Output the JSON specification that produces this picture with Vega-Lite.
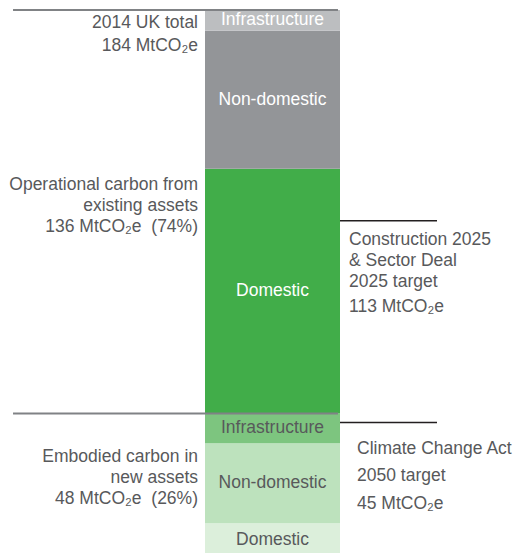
{
  "$schema": "https://vega.github.io/schema/vega-lite/v6.json",
  "width": 135,
  "height": 543,
  "autosize": {"type": "none"},
  "padding": {"left": 205, "right": 174, "top": 10, "bottom": 0},
  "background": "white",
  "config": {"view": {"stroke": null}, "font": "Liberation Sans", "text": {"font": "Liberation Sans", "fontSize": 17.5, "color": "#58595b"}},
  "datasets": {
    "segments": [
      {"group": "Embodied", "sector": "Domestic", "segment": "Embodied Domestic", "value": 11, "order": 1},
      {"group": "Embodied", "sector": "Non-domestic", "segment": "Embodied Non-domestic", "value": 27, "order": 2},
      {"group": "Embodied", "sector": "Infrastructure", "segment": "Embodied Infrastructure", "value": 10, "order": 3},
      {"group": "Operational", "sector": "Domestic", "segment": "Operational Domestic", "value": 82.5, "order": 4},
      {"group": "Operational", "sector": "Non-domestic", "segment": "Operational Non-domestic", "value": 46.5, "order": 5},
      {"group": "Operational", "sector": "Infrastructure", "segment": "Operational Infrastructure", "value": 7, "order": 6}
    ],
    "totals": [
      {"label": "2014 UK total", "total": 184},
      {"label": "Embodied", "total": 48}
    ],
    "targets": [
      {"label": "Construction 2025 & Sector Deal 2025 target", "target": 113},
      {"label": "Climate Change Act 2050 target", "target": 45}
    ],
    "note": [{}]
  },
  "layer": [
    {
      "data": {"name": "segments"},
      "transform": [
        {"stack": "value", "groupby": [], "sort": [{"field": "order", "order": "ascending"}], "as": ["v0", "v1"]}
      ],
      "mark": {"type": "bar", "clip": true},
      "encoding": {
        "x": {"datum": 0, "type": "quantitative", "scale": {"domain": [0, 1], "nice": false, "zero": false}, "axis": null},
        "x2": {"datum": 1},
        "y": {"field": "v0", "type": "quantitative", "scale": {"domain": [1, 184], "nice": false, "zero": false}, "axis": null},
        "y2": {"field": "v1"},
        "color": {
          "field": "segment", "type": "nominal", "legend": null,
          "scale": {
            "domain": ["Embodied Domestic", "Embodied Non-domestic", "Embodied Infrastructure", "Operational Domestic", "Operational Non-domestic", "Operational Infrastructure"],
            "range": ["#dcefdb", "#bde2bd", "#7dc57f", "#41ad49", "#939598", "#bcbec0"]
          }
        }
      }
    },
    {
      "data": {"name": "segments"},
      "transform": [
        {"stack": "value", "groupby": [], "sort": [{"field": "order", "order": "ascending"}], "as": ["v0", "v1"]},
        {"calculate": "(datum.v0 + datum.v1) / 2", "as": "mid"}
      ],
      "mark": {"type": "text", "align": "center", "baseline": "middle", "fontSize": 17.5},
      "encoding": {
        "x": {"datum": 0.5, "type": "quantitative"},
        "y": {"field": "mid", "type": "quantitative"},
        "text": {"field": "sector"},
        "color": {"field": "group", "type": "nominal", "legend": null, "scale": {"domain": ["Operational", "Embodied"], "range": ["#ffffff", "#58595b"]}}
      }
    },
    {
      "data": {"name": "totals"},
      "mark": {"type": "rule", "color": "#808285", "strokeWidth": 2},
      "encoding": {
        "x": {"datum": -1.422, "type": "quantitative"},
        "x2": {"datum": 0.985},
        "y": {"field": "total", "type": "quantitative"}
      }
    },
    {
      "data": {"name": "targets"},
      "mark": {"type": "rule", "color": "#231f20", "strokeWidth": 1.5},
      "encoding": {
        "x": {"datum": 1, "type": "quantitative"},
        "x2": {"datum": 1.7185},
        "y": {"field": "target", "type": "quantitative"}
      }
    },
    {
      "data": {"name": "note"},
      "mark": {"type": "text", "align": "right", "baseline": "middle", "dx": -7, "lineHeight": 23},
      "encoding": {
        "x": {"datum": 0, "type": "quantitative"},
        "y": {"datum": 179.6, "type": "quantitative"},
        "text": {"value": ["2014 UK total", "184 MtCO₂e"]}
      }
    },
    {
      "data": {"name": "note"},
      "mark": {"type": "text", "align": "right", "baseline": "middle", "dx": -7, "lineHeight": 21},
      "encoding": {
        "x": {"datum": 0, "type": "quantitative"},
        "y": {"datum": 125.0, "type": "quantitative"},
        "text": {"value": ["Operational carbon from", "existing assets", "136 MtCO₂e\u00a0\u00a0(74%)"]}
      }
    },
    {
      "data": {"name": "note"},
      "mark": {"type": "text", "align": "right", "baseline": "middle", "dx": -7, "lineHeight": 21},
      "encoding": {
        "x": {"datum": 0, "type": "quantitative"},
        "y": {"datum": 33.3, "type": "quantitative"},
        "text": {"value": ["Embodied carbon in", "new assets", "48 MtCO₂e\u00a0\u00a0(26%)"]}
      }
    },
    {
      "data": {"name": "note"},
      "mark": {"type": "text", "align": "left", "baseline": "middle", "dx": 9, "lineHeight": 21},
      "encoding": {
        "x": {"datum": 1, "type": "quantitative"},
        "y": {"datum": 106.5, "type": "quantitative"},
        "text": {"value": ["Construction 2025", "& Sector Deal", "2025 target"]}
      }
    },
    {
      "data": {"name": "note"},
      "mark": {"type": "text", "align": "left", "baseline": "middle", "dx": 9},
      "encoding": {
        "x": {"datum": 1, "type": "quantitative"},
        "y": {"datum": 83.9, "type": "quantitative"},
        "text": {"value": "113 MtCO₂e"}
      }
    },
    {
      "data": {"name": "note"},
      "mark": {"type": "text", "align": "left", "baseline": "middle", "dx": 17},
      "encoding": {
        "x": {"datum": 1, "type": "quantitative"},
        "y": {"datum": 36.0, "type": "quantitative"},
        "text": {"value": "Climate Change Act"}
      }
    },
    {
      "data": {"name": "note"},
      "mark": {"type": "text", "align": "left", "baseline": "middle", "dx": 17},
      "encoding": {
        "x": {"datum": 1, "type": "quantitative"},
        "y": {"datum": 26.9, "type": "quantitative"},
        "text": {"value": "2050 target"}
      }
    },
    {
      "data": {"name": "note"},
      "mark": {"type": "text", "align": "left", "baseline": "middle", "dx": 17},
      "encoding": {
        "x": {"datum": 1, "type": "quantitative"},
        "y": {"datum": 17.5, "type": "quantitative"},
        "text": {"value": "45 MtCO₂e"}
      }
    }
  ],
  "resolve": {"scale": {"color": "independent"}}
}
